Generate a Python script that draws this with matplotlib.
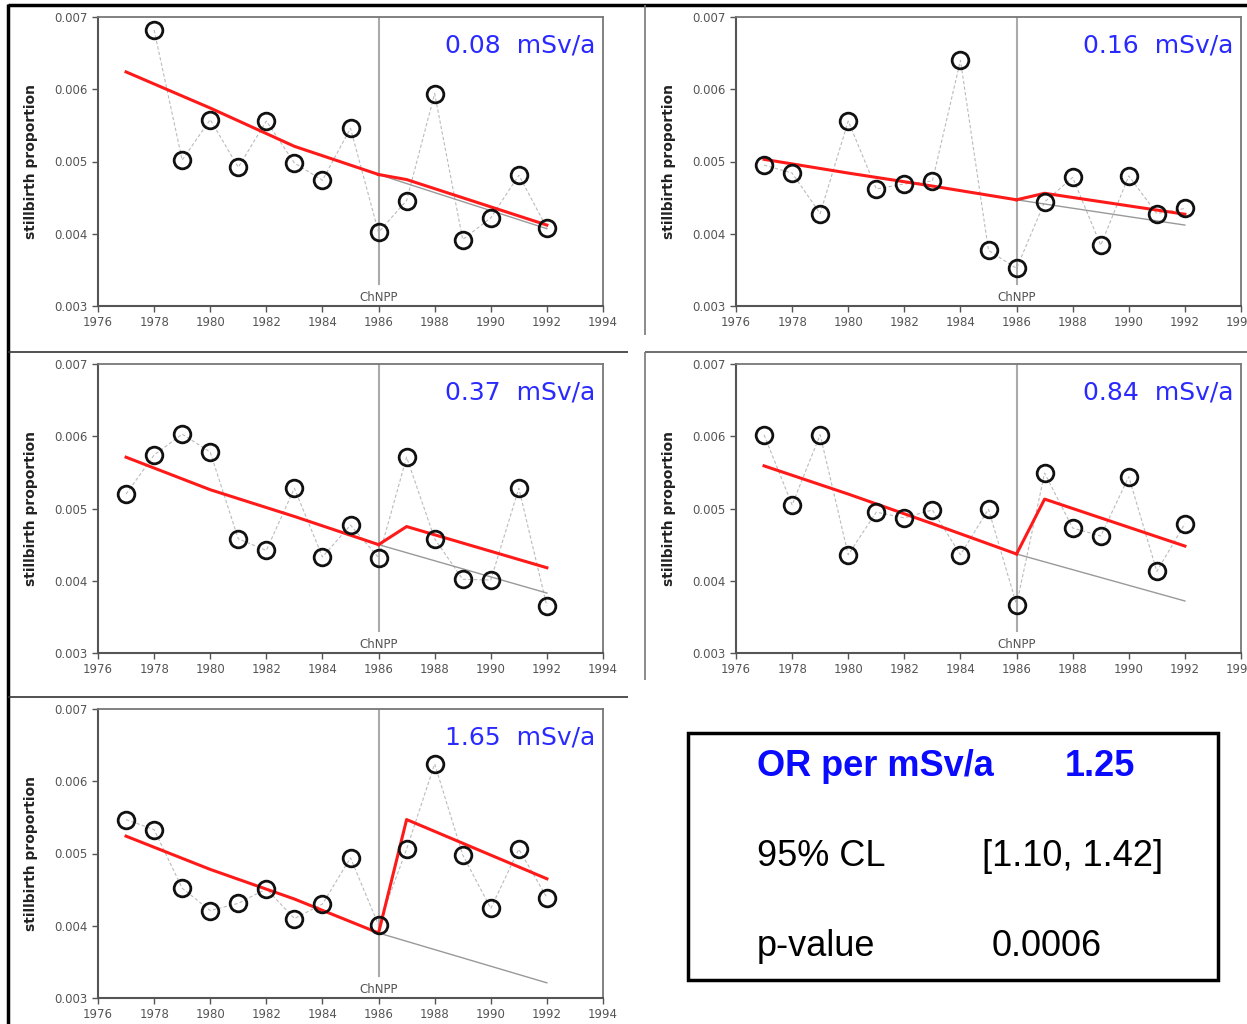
import matplotlib
matplotlib.use("Agg")
import matplotlib.pyplot as plt
import numpy as np
from matplotlib.lines import Line2D
from matplotlib.patches import Rectangle
from matplotlib.ticker import FormatStrFormatter

W, H = 1247, 1024
plt.rcParams['font.family'] = ['Liberation Sans', 'DejaVu Sans']

years = list(range(1977, 1993))
dose_labels = ["0.08  mSv/a", "0.16  mSv/a", "0.37  mSv/a", "0.84  mSv/a", "1.65  mSv/a"]

# observed stillbirth proportions 1977..1992 (panel 1 has no 1977 value)
obs_008 = [np.nan, 0.00682, 0.00502, 0.00558, 0.00492, 0.00556, 0.00498, 0.00474,
           0.00546, 0.00402, 0.00446, 0.00594, 0.00392, 0.00422, 0.00481, 0.00408]
obs_016 = [0.00495, 0.00484, 0.00428, 0.00556, 0.00462, 0.00469, 0.00473, 0.00640,
           0.00377, 0.00352, 0.00444, 0.00478, 0.00384, 0.00480, 0.00428, 0.00435]
obs_037 = [0.00520, 0.00574, 0.00603, 0.00578, 0.00458, 0.00442, 0.00528, 0.00433,
           0.00477, 0.00432, 0.00571, 0.00458, 0.00402, 0.00401, 0.00528, 0.00365]
obs_084 = [0.00602, 0.00505, 0.00602, 0.00436, 0.00495, 0.00487, 0.00498, 0.00436,
           0.00499, 0.00367, 0.00549, 0.00473, 0.00462, 0.00544, 0.00413, 0.00479]
obs_165 = [0.00547, 0.00533, 0.00452, 0.00421, 0.00431, 0.00451, 0.00410, 0.00430,
           0.00494, 0.00401, 0.00506, 0.00624, 0.00498, 0.00424, 0.00506, 0.00439]

# fitted trend (red): before and after 1986
fit_years = [1977, 1980, 1983, 1986, 1987, 1992]
fit_008 = [0.00624, 0.00574, 0.00521, 0.00482, 0.00475, 0.00412]
fit_016 = [0.00503, 0.00484, 0.00466, 0.00447, 0.00456, 0.00427]
fit_037 = [0.00571, 0.00526, 0.00489, 0.00450, 0.00475, 0.00418]
fit_084 = [0.00559, 0.00520, 0.00479, 0.00437, 0.00513, 0.00448]
fit_165 = [0.00524, 0.00478, 0.00437, 0.00390, 0.00547, 0.00465]

# baseline continuation (grey) after 1986
base_years = [1986, 1992]
base_008 = [0.00482, 0.00407]
base_016 = [0.00447, 0.00412]
base_037 = [0.00450, 0.00383]
base_084 = [0.00437, 0.00372]
base_165 = [0.00390, 0.00321]

obs_all = [obs_008, obs_016, obs_037, obs_084, obs_165]
fit_all = [fit_008, fit_016, fit_037, fit_084, fit_165]
base_all = [base_008, base_016, base_037, base_084, base_165]

# axes positions in pixels (left, top), same size for all panels
pos = [(98, 17), (736, 17), (98, 364), (736, 364), (98, 709)]
aw, ah = 505, 289

fig = plt.figure(figsize=(W / 100, H / 100), dpi=100)


def px_axes(left, top, w, h):
    return fig.add_axes([left / W, 1 - (top + h) / H, w / W, h / H])


def line_px(x0, y0, x1, y1, color="black", lw=1.5):
    fig.add_artist(Line2D([x0 / W, x1 / W], [1 - y0 / H, 1 - y1 / H],
                          color=color, lw=lw, solid_capstyle="butt"))


for i in range(5):
    ax = px_axes(pos[i][0], pos[i][1], aw, ah)
    ax.plot(years, obs_all[i], color="#bbbbbb", lw=0.8, ls=(0, (3, 2)), zorder=1)
    ax.axvline(1986, ymin=0.075, ymax=1, color="#aaaaaa", lw=1.5, zorder=1)
    ax.plot(base_years, base_all[i], color="#999999", lw=1.0, zorder=2)
    ax.plot(fit_years[:4], fit_all[i][:4], color="#ff1a1a", lw=2.2, zorder=3)
    ax.plot([1986] + fit_years[4:], [fit_all[i][3]] + fit_all[i][4:], color="#ff1a1a", lw=2.2, zorder=3)
    ax.plot(years, obs_all[i], ls="none", marker="o", ms=12, mfc="none",
            mec="#111111", mew=2.0, zorder=4)
    ax.text(1986, 0.00312, "ChNPP", ha="center", va="center", fontsize=8.5,
            color="#555555", family="DejaVu Sans")
    ax.text(0.985, 0.9, dose_labels[i], transform=ax.transAxes, ha="right", va="center",
            fontsize=18, color="#2a2aff", family="DejaVu Sans")
    ax.set_xlim(1976, 1994)
    ax.set_ylim(0.003, 0.007)
    ax.set_xticks(range(1976, 1995, 2))
    ax.set_yticks([0.003, 0.004, 0.005, 0.006, 0.007])
    ax.yaxis.set_major_formatter(FormatStrFormatter("%.3f"))
    ax.tick_params(direction="out", length=4, width=1, colors="#555555",
                   labelsize=8.5, labelcolor="#555555")
    for lab in ax.get_xticklabels() + ax.get_yticklabels():
        lab.set_family("DejaVu Sans")
    ax.set_ylabel("stillbirth proportion", fontsize=10, fontweight="bold",
                  color="#222222", labelpad=12, family="DejaVu Sans")
    for s in ["left", "bottom"]:
        ax.spines[s].set_color("#555555")
        ax.spines[s].set_linewidth(1.5)
    for s in ["top", "right"]:
        ax.spines[s].set_color("#777777")
        ax.spines[s].set_linewidth(1.3)

# panel frames
line_px(8, 4, 8, 1024, lw=2.5)
line_px(8, 5, 1247, 5, lw=2.5)
line_px(8, 352, 628, 352, color="#333333", lw=1.2)
line_px(645, 352, 1247, 352, color="#555555", lw=1.2)
line_px(8, 697, 628, 697, color="#333333", lw=1.2)
line_px(645, 5, 645, 335, color="#777777", lw=1.2)
line_px(645, 352, 645, 680, color="#777777", lw=1.2)

# summary box
fig.add_artist(Rectangle((688 / W, 1 - 980 / H), 530 / W, 247 / H, fill=False,
                         ec="black", lw=2.5, transform=fig.transFigure))
fs = 26
fig.text(757 / W, 1 - 767 / H, "OR per mSv/a", fontsize=fs, fontweight="bold", color="#0a0aff", va="center")
fig.text(1065 / W, 1 - 767 / H, "1.25", fontsize=fs, fontweight="bold", color="#0a0aff", va="center")
fig.text(757 / W, 1 - 857 / H, "95% CL", fontsize=fs, color="black", va="center")
fig.text(982 / W, 1 - 857 / H, "[1.10, 1.42]", fontsize=fs, color="black", va="center")
fig.text(757 / W, 1 - 946 / H, "p-value", fontsize=fs, color="black", va="center")
fig.text(992 / W, 1 - 946 / H, "0.0006", fontsize=fs, color="black", va="center")

fig.savefig("out.png", dpi=100)
